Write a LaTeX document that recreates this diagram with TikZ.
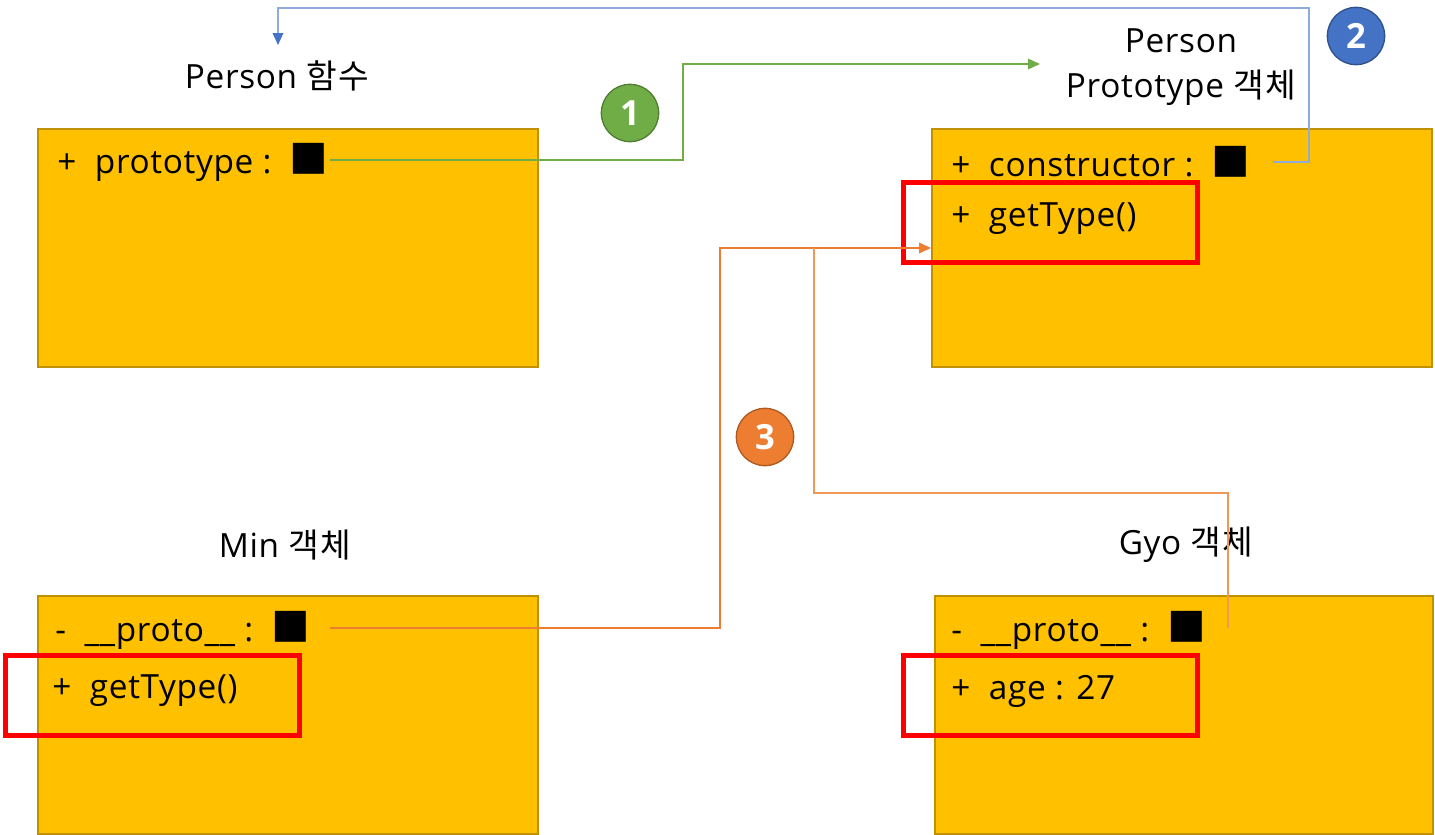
\documentclass[tikz,border=0pt]{standalone}
\usepackage{fontspec}
\setmainfont{Open Sans}[LetterSpace=2]
\newfontfamily\kr{Noto Sans CJK KR}[LetterSpace=4]
\newcommand{\blk}{{\kr\fontsize{29}{29}\selectfont ■}}
\usetikzlibrary{arrows.meta}
\definecolor{gold}{HTML}{FFC000}
\definecolor{golddark}{HTML}{BF9000}
\definecolor{cgreen}{HTML}{70AD47}
\definecolor{cgreendk}{HTML}{507E32}
\definecolor{cblue}{HTML}{4472C4}
\definecolor{cbluedk}{HTML}{2F528F}
\definecolor{cbluelt}{HTML}{8FAADC}
\definecolor{corange}{HTML}{ED7D31}
\definecolor{corangedk}{HTML}{AE5A21}
\tikzset{
  objbox/.style={draw=golddark, fill=gold, line width=1.5pt, minimum width=375pt, minimum height=178.5pt, inner sep=0pt, anchor=north west},
  hilite/.style={draw=red, line width=3.5pt, minimum width=220.5pt, minimum height=60pt, inner sep=0pt, anchor=north west},
  item/.style={anchor=west, inner sep=0pt, font=\fontsize{25}{29}\selectfont},
  title/.style={inner sep=0pt, font=\fontsize{25}{34}\selectfont, align=center},
  badge/.style={circle, line width=1pt, minimum size=43pt, inner sep=0pt, text=white, font=\fontsize{26}{28}\selectfont\bfseries},
  conn/.style={line width=0.9pt},
  tip/.style={-{Triangle[length=9pt,width=8pt]}},
  bluetip/.style={-{Triangle[length=9pt,width=8pt,color=cblue]}}
}
\begin{document}
\begin{tikzpicture}[x=0.75pt,y=-0.75pt]
\useasboundingbox (0,0) rectangle (1435,835);
% boxes
\node[objbox] (pbox) at (37,128) {};
\node[objbox] (protobox) at (931,128) {};
\node[objbox] (minbox) at (37,595) {};
\node[objbox, minimum width=373.5pt] (gyobox) at (934,595) {};
% highlights
\node[hilite] (h1) at (901,180) {};
\node[hilite] (h2) at (3,653) {};
\node[hilite] (h3) at (901,653) {};
% titles
\node[title] (tperson) at (277,76) {Person {\kr 함수}};
\node[title] (tproto) at (1181,67) {Person\\Prototype {\kr 객체}};
\node[title] (tmin) at (285,545) {Min {\kr 객체}};
\node[title] (tgyo) at (1186,545) {Gyo {\kr 객체}};
% items
\node[item] (i1) at (57,162) {+ \ prototype : \,\blk};
\node[item] (i2) at (951,162) {+ \ constructor : \,\blk};
\node[item] (i3) at (951,219) {+ \ getType()};
\node[item] (i4) at (55,630) {- \ \_\_proto\_\_ : \,\blk};
\node[item] (i5) at (52,691) {+ \ getType()};
\node[item] (i6) at (951,630) {- \ \_\_proto\_\_ : \,\blk};
\node[item] (i7) at (951,691) {+ \ age : 27};
% badges
\node[badge, fill=cgreen, draw=cgreendk] (b1) at (630,113) {1};
\node[badge, fill=cblue, draw=cbluedk] (b2) at (1356,36) {2};
\node[badge, fill=corange, draw=corangedk] (b3) at (765,437) {3};
% connector anchor points
\coordinate (g0) at (330,160);
\coordinate (g1) at (1040,64);
\coordinate (u0) at (1273,162);
\coordinate (u1) at (278,45);
\coordinate (o0) at (330,628);
\coordinate (o1) at (931,248);
\coordinate (o2) at (1228,628);
\coordinate (oj) at (814,248);
% connectors
\draw[conn, draw=cgreen, tip] (g0) -- (683,160) -- (683,64) -- (g1);
\draw[conn, draw=cbluelt, bluetip] (u0) -- (1309,162) -- (1309,8) -- (278,8) -- (u1);
\draw[conn, draw=corange, tip] (o0) -- (720,628) -- (720,248) -- (o1);
\draw[conn, draw=corange!80] (o2) -- (1228,493) -- (814,493) -- (oj);
\end{tikzpicture}
\end{document}
